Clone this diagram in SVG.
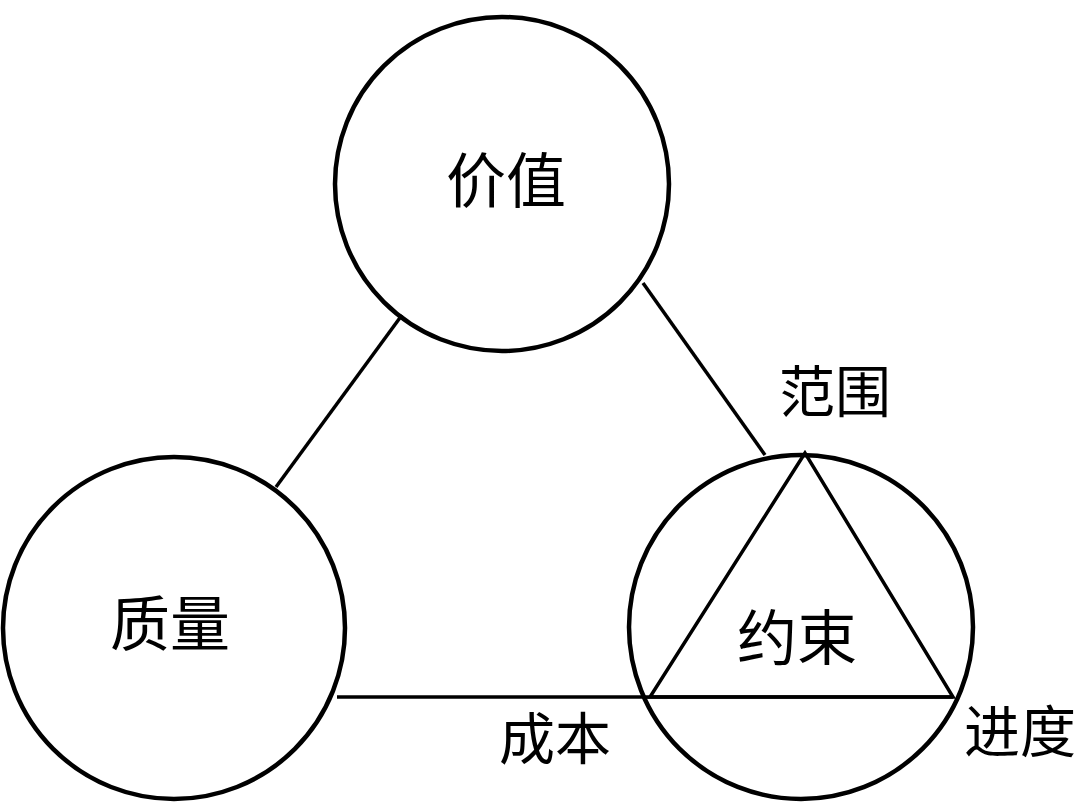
<svg xmlns="http://www.w3.org/2000/svg" width="1080" height="803" viewBox="0 0 1080 803">
<style>
.c{fill:none;stroke:#000;stroke-width:4.5}
.l{fill:none;stroke:#000;stroke-width:3.5}
text{font-family:"Liberation Serif","Noto Sans CJK SC",serif;fill:#000;text-anchor:middle;dominant-baseline:central}
.b{font-size:60px}
.s{font-size:56px}
</style>
<rect width="1080" height="803" fill="#fff"/>
<g id="connectors">
<line class="l" x1="402" y1="315" x2="276" y2="487"/>
<line class="l" x1="643" y1="283" x2="765" y2="455"/>
<line class="l" x1="337" y1="697" x2="953" y2="697"/>
<polygon class="l" points="805,453 650,697 953,697"/>
</g>
<g id="value"><circle class="c" cx="502" cy="184" r="167"/><text class="b" x="506" y="183">价值</text></g>
<g id="quality"><circle class="c" cx="174" cy="628" r="171"/><text class="b" x="170" y="626">质量</text></g>
<g id="constraint"><circle class="c" cx="801" cy="627" r="172"/><text class="b" x="797" y="640">约束</text></g>
<g id="scope"><text class="s" x="835" y="393">范围</text></g>
<g id="cost"><text class="s" x="555" y="740">成本</text></g>
<g id="schedule"><text class="s" x="1020" y="733">进度</text></g>
</svg>
